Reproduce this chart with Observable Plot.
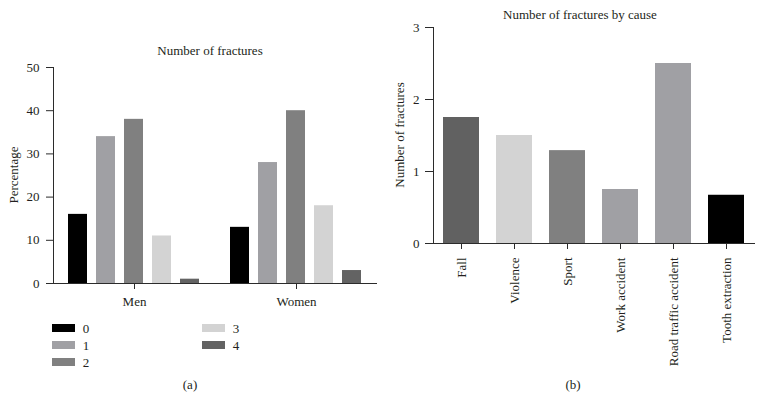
<!DOCTYPE html>
<html><head><meta charset="utf-8">
<script src="https://cdn.jsdelivr.net/npm/d3@7"></script>
<script src="https://cdn.jsdelivr.net/npm/@observablehq/plot@0.6"></script>
<style>
body{margin:0;background:#fff;font-family:'Liberation Serif',serif;color:#231f20}
#wrap{position:relative;width:764px;height:410px;overflow:hidden}
.abs{position:absolute;white-space:nowrap;font-size:13px;line-height:1;color:#231f20}
.c{transform:translate(-50%,-50%)}
.r{transform:translate(-50%,-50%) rotate(-90deg)}
.panel{position:absolute;top:0}
svg text{font-family:'Liberation Serif',serif}
</style></head><body><div id="wrap"></div>
<script>
const groups = ["Men", "Women"];
const fractureCounts = ["0", "1", "2", "3", "4"];
const menPct = [16, 34, 38, 11, 1];
const womenPct = [13, 28, 40, 18, 3];
const countColors = ["#000000", "#a0a0a4", "#808080", "#d3d3d3", "#636363"];
const causes = ["Fall", "Violence", "Sport", "Work accident", "Road traffic accident", "Tooth extraction"];
const causeValues = [1.75, 1.5, 1.29, 0.75, 2.5, 0.67];
const causeColors = ["#616161", "#d3d3d3", "#808080", "#a0a0a4", "#a0a0a4", "#000000"];
const yTicksA = [0, 10, 20, 30, 40, 50];
const yTicksB = [0, 1, 2, 3];

const wrap = document.getElementById("wrap");
const font = {fontFamily: "'Liberation Serif', serif", fontSize: "13px", color: "#231f20", background: "transparent", overflow: "visible"};
const ink = "#2b2b2b";

const dataA = groups.flatMap((g, gi) => fractureCounts.map((c, ci) => ({group: g, count: c, value: (gi ? womenPct : menPct)[ci]})));
const plotA = Plot.plot({
  width: 380, height: 310, marginTop: 67, marginBottom: 27, marginLeft: 53, marginRight: 3,
  style: font,
  fx: {domain: groups, padding: 0, label: null, axis: null},
  x: {domain: fractureCounts, paddingInner: 0.32, paddingOuter: 0.49, axis: null},
  y: {domain: [0, 50], axis: null},
  color: {domain: fractureCounts, range: countColors},
  marks: [
    Plot.barY(dataA, {fx: "group", x: "count", y: "value", fill: "count"}),
    Plot.axisFx({anchor: "bottom", tickSize: 6, tickPadding: 7, label: null, stroke: ink}),
    Plot.axisY({ticks: yTicksA, tickFormat: "d", tickSize: 7, tickPadding: 7, label: null, stroke: ink}),
    Plot.frame({anchor: "left", facet: "super", stroke: ink}),
    Plot.ruleY([0], {stroke: ink})
  ]
});
plotA.classList.add("panel");
plotA.style.left = "0px";
wrap.appendChild(plotA);

const dataB = causes.map((c, i) => ({cause: c, value: causeValues[i]}));
const plotB = Plot.plot({
  width: 384, height: 380, marginTop: 27, marginBottom: 137, marginLeft: 53, marginRight: 9,
  style: font,
  x: {domain: causes, paddingInner: 0.315, paddingOuter: 0.139, axis: null},
  y: {domain: [0, 3], axis: null},
  color: {domain: causes, range: causeColors},
  marks: [
    Plot.barY(dataB, {x: "cause", y: "value", fill: "cause"}),
    Plot.axisX({tickSize: 6, tickPadding: 8, tickRotate: -90, label: null, stroke: ink}),
    Plot.axisY({ticks: yTicksB, tickFormat: "d", tickSize: 8, tickPadding: 6, label: null, stroke: ink}),
    Plot.frame({anchor: "left", stroke: ink}),
    Plot.ruleY([0], {stroke: ink})
  ]
});
plotB.classList.add("panel");
plotB.style.left = "380px";
wrap.appendChild(plotB);

function label(text, x, y, cls) {
  const d = document.createElement("div");
  d.className = "abs " + cls;
  d.style.left = x + "px";
  d.style.top = y + "px";
  d.textContent = text;
  wrap.appendChild(d);
}
label("Number of fractures", 210, 50, "c");
label("Number of fractures by cause", 580, 14, "c");
label("Percentage", 13, 175, "r");
label("Number of fractures", 399, 135, "r");
label("(a)", 190, 384, "c");
label("(b)", 573, 384, "c");

// legend
fractureCounts.forEach((c, i) => {
  const col = i < 3 ? 0 : 1, row = i < 3 ? i : i - 3;
  const x = col ? 202 : 52, y = 328 + row * 17;
  const sw = document.createElement("div");
  sw.style.cssText = `position:absolute;left:${x}px;top:${y - 4}px;width:23px;height:8px;background:${countColors[i]}`;
  wrap.appendChild(sw);
  label(c, x + 34, y, "c");
});
</script></body></html>
